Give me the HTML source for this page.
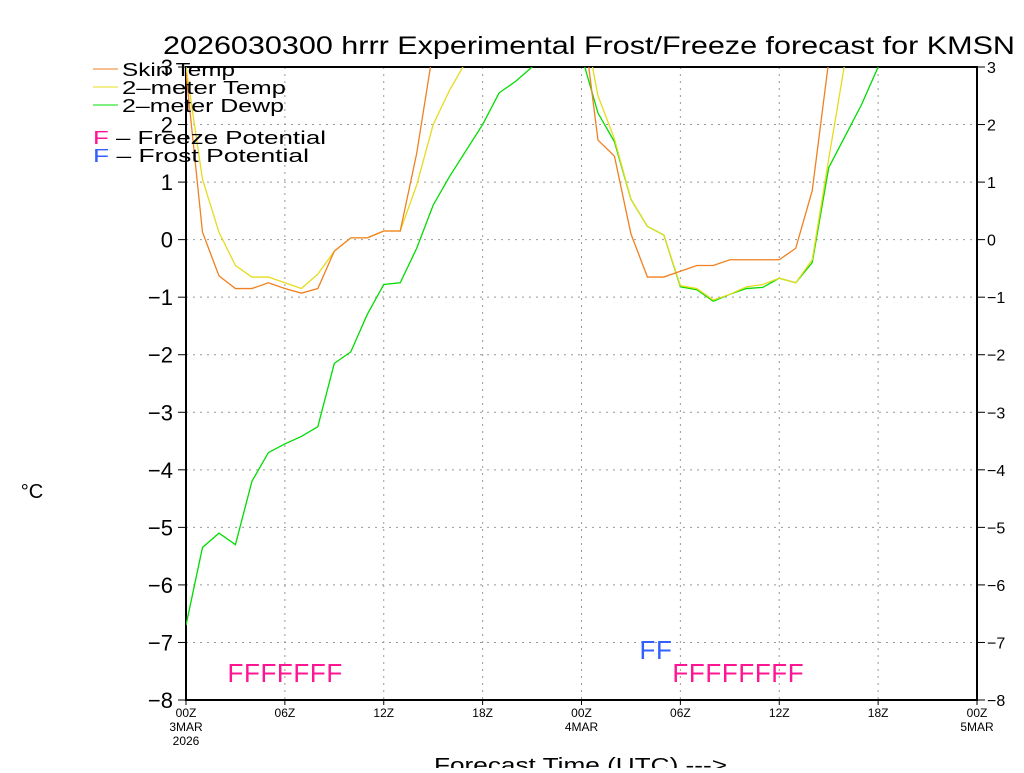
<!DOCTYPE html>
<html><head><meta charset="utf-8"><style>
body{margin:0;background:#fff;}
svg text{font-family:"Liberation Sans",sans-serif;}
</style></head><body>
<svg id="chart" width="1024" height="768" xmlns="http://www.w3.org/2000/svg">
<text x="163" y="54" font-size="25" textLength="852" lengthAdjust="spacingAndGlyphs" fill="#000">2026030300 hrrr Experimental Frost/Freeze forecast for KMSN</text>
<g id="grid"></g>
<g id="axes"></g>
<g id="series"></g>
<g id="marks"></g>
<g font-size="18">
<line x1="93" y1="69" x2="118" y2="69" stroke="#f08020"/><text x="122" y="76" textLength="113" lengthAdjust="spacingAndGlyphs">Skin Temp</text>
<line x1="93" y1="87" x2="118" y2="87" stroke="#e6dc1e"/><text x="122" y="94" textLength="164" lengthAdjust="spacingAndGlyphs">2–meter Temp</text>
<line x1="93" y1="105" x2="118" y2="105" stroke="#00dc00"/><text x="122" y="112" textLength="162" lengthAdjust="spacingAndGlyphs">2–meter Dewp</text>
<text x="93" y="144" textLength="233" lengthAdjust="spacingAndGlyphs"><tspan fill="#ff1493">F</tspan> – Freeze Potential</text>
<text x="93" y="162" textLength="216" lengthAdjust="spacingAndGlyphs"><tspan fill="#3060ff">F</tspan> – Frost Potential</text>
</g>
<text x="32" y="498" font-size="20" text-anchor="middle">°C</text>
<text x="434" y="772" font-size="20" textLength="293" lengthAdjust="spacingAndGlyphs">Forecast Time (UTC) ---&gt;</text>
</svg>
<script>
const yTicks=[3,2,1,0,-1,-2,-3,-4,-5,-6,-7,-8];
const xTickHours=[0,6,12,18,24,30,36,42,48];
const xTickLabels=["00Z","06Z","12Z","18Z","00Z","06Z","12Z","18Z","00Z"];
const xDateLabels=["3MAR","","","","4MAR","","","","5MAR"];
const skinTemp=[2.9,0.13,-0.63,-0.85,-0.85,-0.75,-0.85,-0.93,-0.85,-0.2,0.03,0.03,0.15,0.15,1.5,3.3,4,4,4,4,4,4,4,4,4,1.73,1.45,0.1,-0.65,-0.65,-0.55,-0.45,-0.45,-0.35,-0.35,-0.35,-0.35,-0.15,0.85,3.1,4,4,4,4,4,4,4,4,4];
const temp2m=[3.0,1.05,0.13,-0.45,-0.65,-0.65,-0.75,-0.85,-0.6,-0.2,0.03,0.03,0.15,0.15,0.95,2.0,2.6,3.1,4,4,4,4,4,4,4,2.5,1.75,0.7,0.23,0.08,-0.8,-0.85,-1.05,-0.95,-0.82,-0.78,-0.67,-0.75,-0.35,1.4,3.1,4,4,4,4,4,4,4,4];
const dewp2m=[-6.7,-5.35,-5.1,-5.3,-4.2,-3.7,-3.55,-3.42,-3.25,-2.15,-1.95,-1.3,-0.78,-0.75,-0.15,0.6,1.1,1.55,2.0,2.55,2.75,3.0,3.3,4,3.2,2.2,1.7,0.7,0.23,0.08,-0.82,-0.87,-1.07,-0.95,-0.85,-0.83,-0.67,-0.75,-0.4,1.25,1.8,2.35,3.0,4,4,4,4,4,4];
const freezeHours=[3,4,5,6,7,8,9,30,31,32,33,34,35,36,37];
const frostHours=[28,29];
const X0=186,X1=977,Y0=67,Y1=700,YMAX=3,YMIN=-8,HMAX=48;
const xs=h=>X0+(X1-X0)*h/HMAX;
const ys=v=>Y0+(Y1-Y0)*(YMAX-v)/(YMAX-YMIN);
const NS="http://www.w3.org/2000/svg";
function mk(tag,attrs,parent){const e=document.createElementNS(NS,tag);for(const k in attrs)e.setAttribute(k,attrs[k]);document.getElementById(parent).appendChild(e);return e;}
yTicks.forEach(v=>{if(v>YMIN&&v<YMAX){const l=mk('line',{x1:X0,x2:X1,y1:ys(v),y2:ys(v),stroke:'#999','stroke-dasharray':'2,5'},'grid');

}});
xTickHours.forEach(h=>{if(h>0&&h<HMAX){const l=mk('line',{x1:xs(h),x2:xs(h),y1:Y0,y2:Y1,stroke:'#999','stroke-dasharray':'2,5'},'grid');

}});
const fr=mk('rect',{x:X0,y:Y0,width:X1-X0,height:Y1-Y0,fill:'none',stroke:'#000','stroke-width':2},'axes');


yTicks.forEach(v=>{
 mk('line',{x1:X0-8,x2:X0,y1:ys(v),y2:ys(v),stroke:'#000'},'axes');
 mk('line',{x1:X1,x2:X1+8,y1:ys(v),y2:ys(v),stroke:'#000'},'axes');
 const t=mk('text',{x:X0-13,y:ys(v)+8,'font-size':22,'text-anchor':'end'},'axes');t.textContent=(v<0?'−':'')+Math.abs(v);
 
 
 const t2=mk('text',{x:X1+10,y:ys(v)+6,'font-size':16},'axes');t2.textContent=(v<0?'−':'')+Math.abs(v);
 
 
});
xTickHours.forEach((h,i)=>{
 mk('line',{x1:xs(h),x2:xs(h),y1:Y1,y2:Y1+5,stroke:'#000'},'axes');
 const t=mk('text',{x:xs(h),y:Y1+17,'font-size':12,'text-anchor':'middle'},'axes');t.textContent=xTickLabels[i];
 
 
 if(xDateLabels[i]){const d=mk('text',{x:xs(h),y:Y1+31,'font-size':12,'text-anchor':'middle'},'axes');d.textContent=xDateLabels[i];
 
 }
});
const yr=mk('text',{x:xs(0),y:Y1+45,'font-size':12,'text-anchor':'middle'},'axes');yr.textContent='2026';


const cp=mk('clipPath',{id:'pc'},'series');mk('rect',{x:X0,y:Y0,width:X1-X0,height:Y1-Y0},'series');
cp.appendChild(document.getElementById('series').lastChild);
function line(arr,color,name){const p=mk('polyline',{points:arr.map((v,h)=>xs(h)+','+ys(v)).join(' '),fill:'none',stroke:color,'stroke-width':1.3,'clip-path':'url(#pc)'},'series');

}
line(dewp2m,'#00dc00','dewpoint-line');
line(temp2m,'#e6dc1e','temp-2m-line');
line(skinTemp,'#f08020','skin-temp-line');
freezeHours.forEach(h=>{const t=mk('text',{x:xs(h),y:682,'font-size':26,'text-anchor':'middle',fill:'#ff1493'},'marks');t.textContent='F';

});
frostHours.forEach(h=>{const t=mk('text',{x:xs(h),y:659,'font-size':26,'text-anchor':'middle',fill:'#3060ff'},'marks');t.textContent='F';

});
</script>
</body></html>
